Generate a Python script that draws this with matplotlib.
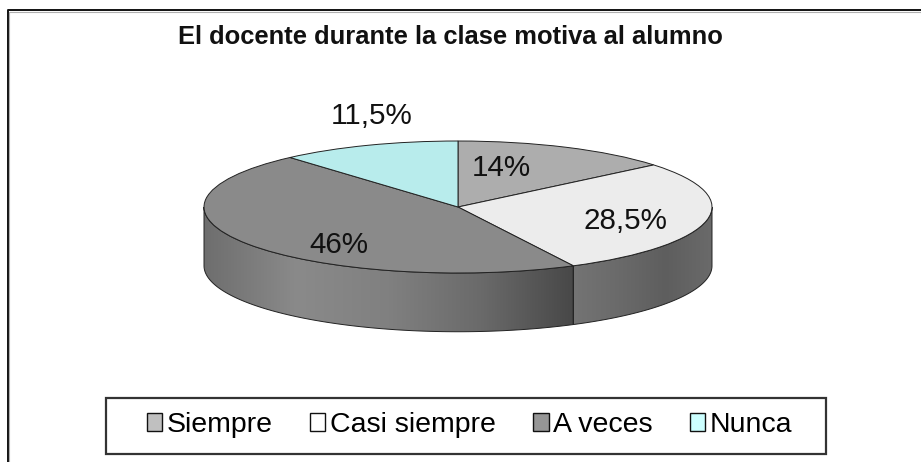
import matplotlib
matplotlib.use('Agg')
import matplotlib.pyplot as plt
import numpy as np
from matplotlib.colors import LinearSegmentedColormap
from matplotlib.patches import Patch, PathPatch, Rectangle
from matplotlib.path import Path

plt.rcParams['font.family'] = ['Liberation Sans', 'DejaVu Sans']

categories = ['Siempre', 'Casi siempre', 'A veces', 'Nunca']
values = [14, 28.5, 46, 11.5]
title = 'El docente durante la clase motiva al alumno'

W, H = 921, 462
colors = ['#adadad', '#ececec', '#8a8a8a', '#b8ecec']
legend_colors = ['#c0c0c0', '#ffffff', '#969696', '#ccffff']
label_pos = [(0.17, 0.59), (0.66, -0.21), (-0.47, -0.58), (-0.34, 1.38)]
depth = 0.89


def side_wall(ax, fig, start, end, cmap):
    t = np.radians(np.linspace(start, end, 120))
    x, y = np.cos(t), np.sin(t)
    verts = np.vstack([np.c_[x, y], np.c_[x[::-1], y[::-1] - depth], [[x[0], y[0]]]])
    codes = [Path.MOVETO] + [Path.LINETO] * (len(verts) - 2) + [Path.CLOSEPOLY]
    patch = PathPatch(Path(verts, codes), facecolor='none', edgecolor='#222222', lw=0.7, clip_on=False, zorder=2)
    ax.add_patch(patch)
    x0, x1 = x.min(), x.max()
    im = ax.imshow(np.linspace(0, 1, 256).reshape(1, -1), extent=(x0, x1, -1 - depth, 0.2), aspect='auto', cmap=cmap, vmin=0, vmax=1, zorder=1)
    im.set_clip_box(fig.bbox)
    im.set_clip_path(patch)


fig = plt.figure(figsize=(W / 100, H / 100), dpi=100)

# fondo en pixeles: marco y caja de la leyenda
bg = fig.add_axes([0, 0, 1, 1])
bg.set_xlim(0, W)
bg.set_ylim(H, 0)
bg.axis('off')
bg.plot([7.5, 7.5, W], [H, 10, 10], color='#111111', lw=1.4)
bg.plot([9, 9, W], [H, 11.5, 11.5], color='#b0b0b0', lw=0.8)
bg.add_patch(Rectangle((106, 398), 720, 56, facecolor='white', edgecolor='#333333', lw=1.6))
bg.text(450, 37, title, fontsize=18.4, fontweight='bold', ha='center', va='center', color='#111111')

ax = fig.add_axes([204 / W, (H - 273) / H, 508 / W, 132 / H])
wedges, _ = ax.pie(values, colors=colors, startangle=90, counterclock=False, radius=1,
                   wedgeprops={'edgecolor': '#222222', 'linewidth': 0.7, 'clip_on': False})
for w in wedges:
    w.set_zorder(3)
ax.set_aspect('auto')

seam = 90 - 360 * (values[0] + values[1]) / sum(values)
right_cmap = LinearSegmentedColormap.from_list('right', ['#747474', '#6a6a6a', '#5e5e5e', '#6a6a6a'])
left_cmap = LinearSegmentedColormap.from_list('left', ['#6e6e6e', '#8a8a8a', '#808080', '#6a6a6a', '#484848'])
side_wall(ax, fig, seam, 0, right_cmap)
side_wall(ax, fig, -180, seam, left_cmap)
ax.set_xlim(-1, 1)
ax.set_ylim(-1, 1)

for v, (x, y) in zip(values, label_pos):
    ax.text(x, y, f'{v:g}%'.replace('.', ','), fontsize=21.3, ha='center', va='center', color='#111111', zorder=5, clip_on=False)

handles = [Patch(facecolor=c, edgecolor='#111111', linewidth=1.0) for c in legend_colors]
fig.legend(handles, categories, ncol=4, loc='center', bbox_to_anchor=(469.5 / W, 1 - 425 / H), frameon=False,
           fontsize=20.5, handlelength=0.55, handleheight=0.55, handletextpad=0.16, columnspacing=1.3)

fig.savefig('out.png', dpi=100)
